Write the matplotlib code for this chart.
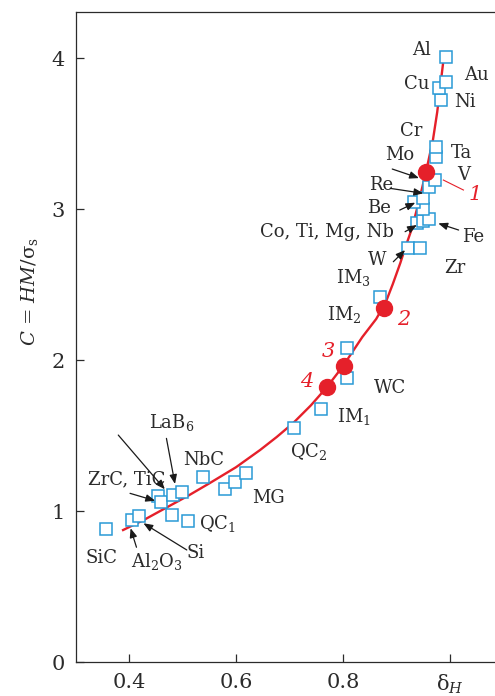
import matplotlib
matplotlib.use("Agg")
import matplotlib.pyplot as plt

INK = "#2b2b2b"
RED = "#e5202a"
BLUE = "#2a9ad6"

# theory curve C(delta_H)
CURVE_X = [0.389, 0.430, 0.467, 0.510, 0.551, 0.600, 0.645, 0.676, 0.707, 0.740,
           0.770, 0.800, 0.836, 0.862, 0.880, 0.893, 0.907, 0.918, 0.929, 0.940,
           0.955, 0.968, 0.976, 0.987]
CURVE_Y = [0.874, 0.945, 1.017, 1.100, 1.185, 1.290, 1.404, 1.490, 1.583, 1.700,
           1.821, 1.960, 2.152, 2.272, 2.384, 2.503, 2.642, 2.762, 2.874, 3.026,
           3.245, 3.457, 3.642, 3.967]

# marked points 1-4 on the curve
DOT_X = [0.955, 0.877, 0.801, 0.770]
DOT_Y = [3.247, 2.342, 1.962, 1.819]
DOT_NAMES = ["1", "2", "3", "4"]

# materials (open squares)
MAT_X = [0.357, 0.405, 0.419, 0.454, 0.460, 0.482, 0.499, 0.480, 0.510, 0.539,
         0.579, 0.598, 0.618, 0.708, 0.759, 0.808, 0.808, 0.870, 0.922, 0.944,
         0.938, 0.950, 0.961, 0.950, 0.933, 0.950, 0.961, 0.971, 0.974, 0.974,
         0.983, 0.980, 0.992, 0.992]
MAT_Y = [0.881, 0.940, 0.967, 1.099, 1.060, 1.106, 1.128, 0.974, 0.934, 1.227,
         1.144, 1.194, 1.250, 1.552, 1.673, 2.077, 1.879, 2.415, 2.740, 2.740,
         2.905, 2.923, 2.932, 2.998, 3.048, 3.071, 3.148, 3.192, 3.346, 3.413,
         3.722, 3.799, 3.839, 4.009]

# (text, x, baseline y, ha)
LABELS = [
    ("Al", 0.947, 4.020, "center"), ("Au", 1.049, 3.854, "center"),
    ("Cu", 0.938, 3.793, "center"), ("Ni", 1.028, 3.673, "center"),
    ("Cr", 0.927, 3.483, "center"), ("Ta", 1.022, 3.336, "center"),
    ("V", 1.026, 3.192, "center"), ("Mo", 0.906, 3.325, "center"),
    ("Re", 0.872, 3.126, "center"), ("Be", 0.868, 2.971, "center"),
    ("Co, Ti, Mg, Nb", 0.895, 2.812, "right"), ("Fe", 1.044, 2.784, "center"),
    ("W", 0.863, 2.629, "center"), ("Zr", 1.009, 2.574, "center"),
    ("IM$_3$", 0.820, 2.508, "center"), ("IM$_2$", 0.803, 2.265, "center"),
    ("WC", 0.888, 1.779, "center"), ("IM$_1$", 0.821, 1.592, "center"),
    ("QC$_2$", 0.736, 1.360, "center"), ("LaB$_6$", 0.479, 1.548, "center"),
    ("NbC", 0.540, 1.305, "center"), ("ZrC, TiC", 0.396, 1.179, "center"),
    ("MG", 0.660, 1.051, "center"), ("QC$_1$", 0.566, 0.879, "center"),
    ("SiC", 0.348, 0.654, "center"), ("Al$_2$O$_3$", 0.452, 0.631, "center"),
    ("Si", 0.525, 0.687, "center"),
]

# red number positions (x, baseline y)
NUM_X = [1.047, 0.913, 0.772, 0.733]
NUM_Y = [3.060, 2.232, 2.022, 1.823]
LEADER_1 = ([0.9875, 1.025], [3.192, 3.126])

# arrows: (tail x, tail y, head x, head y)
ARROWS = [
    (0.892, 3.265, 0.942, 3.205),   # Mo
    (0.888, 3.137, 0.950, 3.104),   # Re
    (0.906, 2.993, 0.935, 3.042),   # Be
    (0.916, 2.850, 0.938, 2.894),   # Mg, Nb
    (1.016, 2.861, 0.978, 2.905),   # Fe
    (0.894, 2.651, 0.916, 2.728),   # W
    (0.402, 1.117, 0.449, 1.068),   # ZrC
    (0.380, 1.503, 0.467, 1.144),   # TiC
    (0.470, 1.481, 0.486, 1.179),   # LaB6
    (0.414, 0.760, 0.403, 0.886),   # Al2O3
    (0.508, 0.742, 0.427, 0.919),   # Si
]

XTICKS = [0.4, 0.6, 0.8, 1.0]
XTICKLABELS = ["0.4", "0.6", "0.8", "δ$_H$"]
YTICKS = [0, 1, 2, 3, 4]

plt.rcParams.update({
    "font.family": "DejaVu Serif",
    "mathtext.fontset": "dejavuserif",
    "text.color": INK,
    "axes.edgecolor": INK,
    "xtick.color": INK,
    "ytick.color": INK,
})

fig = plt.figure(figsize=(4.95, 6.96), dpi=100)
ax = fig.add_axes([76 / 495, 34 / 696, 1 - 76 / 495, 650 / 696])

ax.plot(CURVE_X, CURVE_Y, color=RED, lw=1.7, zorder=2)
ax.plot(MAT_X, MAT_Y, ls="none", marker="s", ms=9.2, mfc="white",
        mec=BLUE, mew=1.1, zorder=3)
ax.plot(DOT_X, DOT_Y, ls="none", marker="o", ms=11.5, color=RED, zorder=4)

for text, x, y, ha in LABELS:
    ax.text(x, y, text, fontsize=13, ha=ha, va="baseline", zorder=5)

for name, x, y in zip(DOT_NAMES, NUM_X, NUM_Y):
    ax.text(x, y, name, fontsize=15, color=RED, style="italic",
            ha="center", va="baseline", zorder=5)
ax.plot(LEADER_1[0], LEADER_1[1], color=RED, lw=0.8, zorder=2)

for tx, ty, hx, hy in ARROWS:
    ax.annotate("", xy=(hx, hy), xytext=(tx, ty),
                arrowprops=dict(arrowstyle="-|>,head_length=0.55,head_width=0.22",
                                color="#1a1a1a", lw=0.9, shrinkA=0, shrinkB=0),
                zorder=5)

ax.set_xlim(0.301, 1.084)
ax.set_ylim(0, 4.305)
ax.set_xticks(XTICKS)
ax.set_xticklabels(XTICKLABELS)
ax.set_yticks(YTICKS)
ax.tick_params(axis="x", direction="in", length=5.5, width=0.9,
               labelsize=15, pad=8)
ax.tick_params(axis="y", direction="in", length=6, width=0.9,
               labelsize=15, pad=8)
ax.spines["right"].set_visible(False)
for s in ("left", "bottom", "top"):
    ax.spines[s].set_linewidth(0.9)

fig.text(29 / 495, 1 - 292 / 696, r"$C$ = $HM$/σ$_{\rm s}$", rotation=90,
         fontsize=14, ha="center", va="center")

fig.savefig("out.png", dpi=100)
